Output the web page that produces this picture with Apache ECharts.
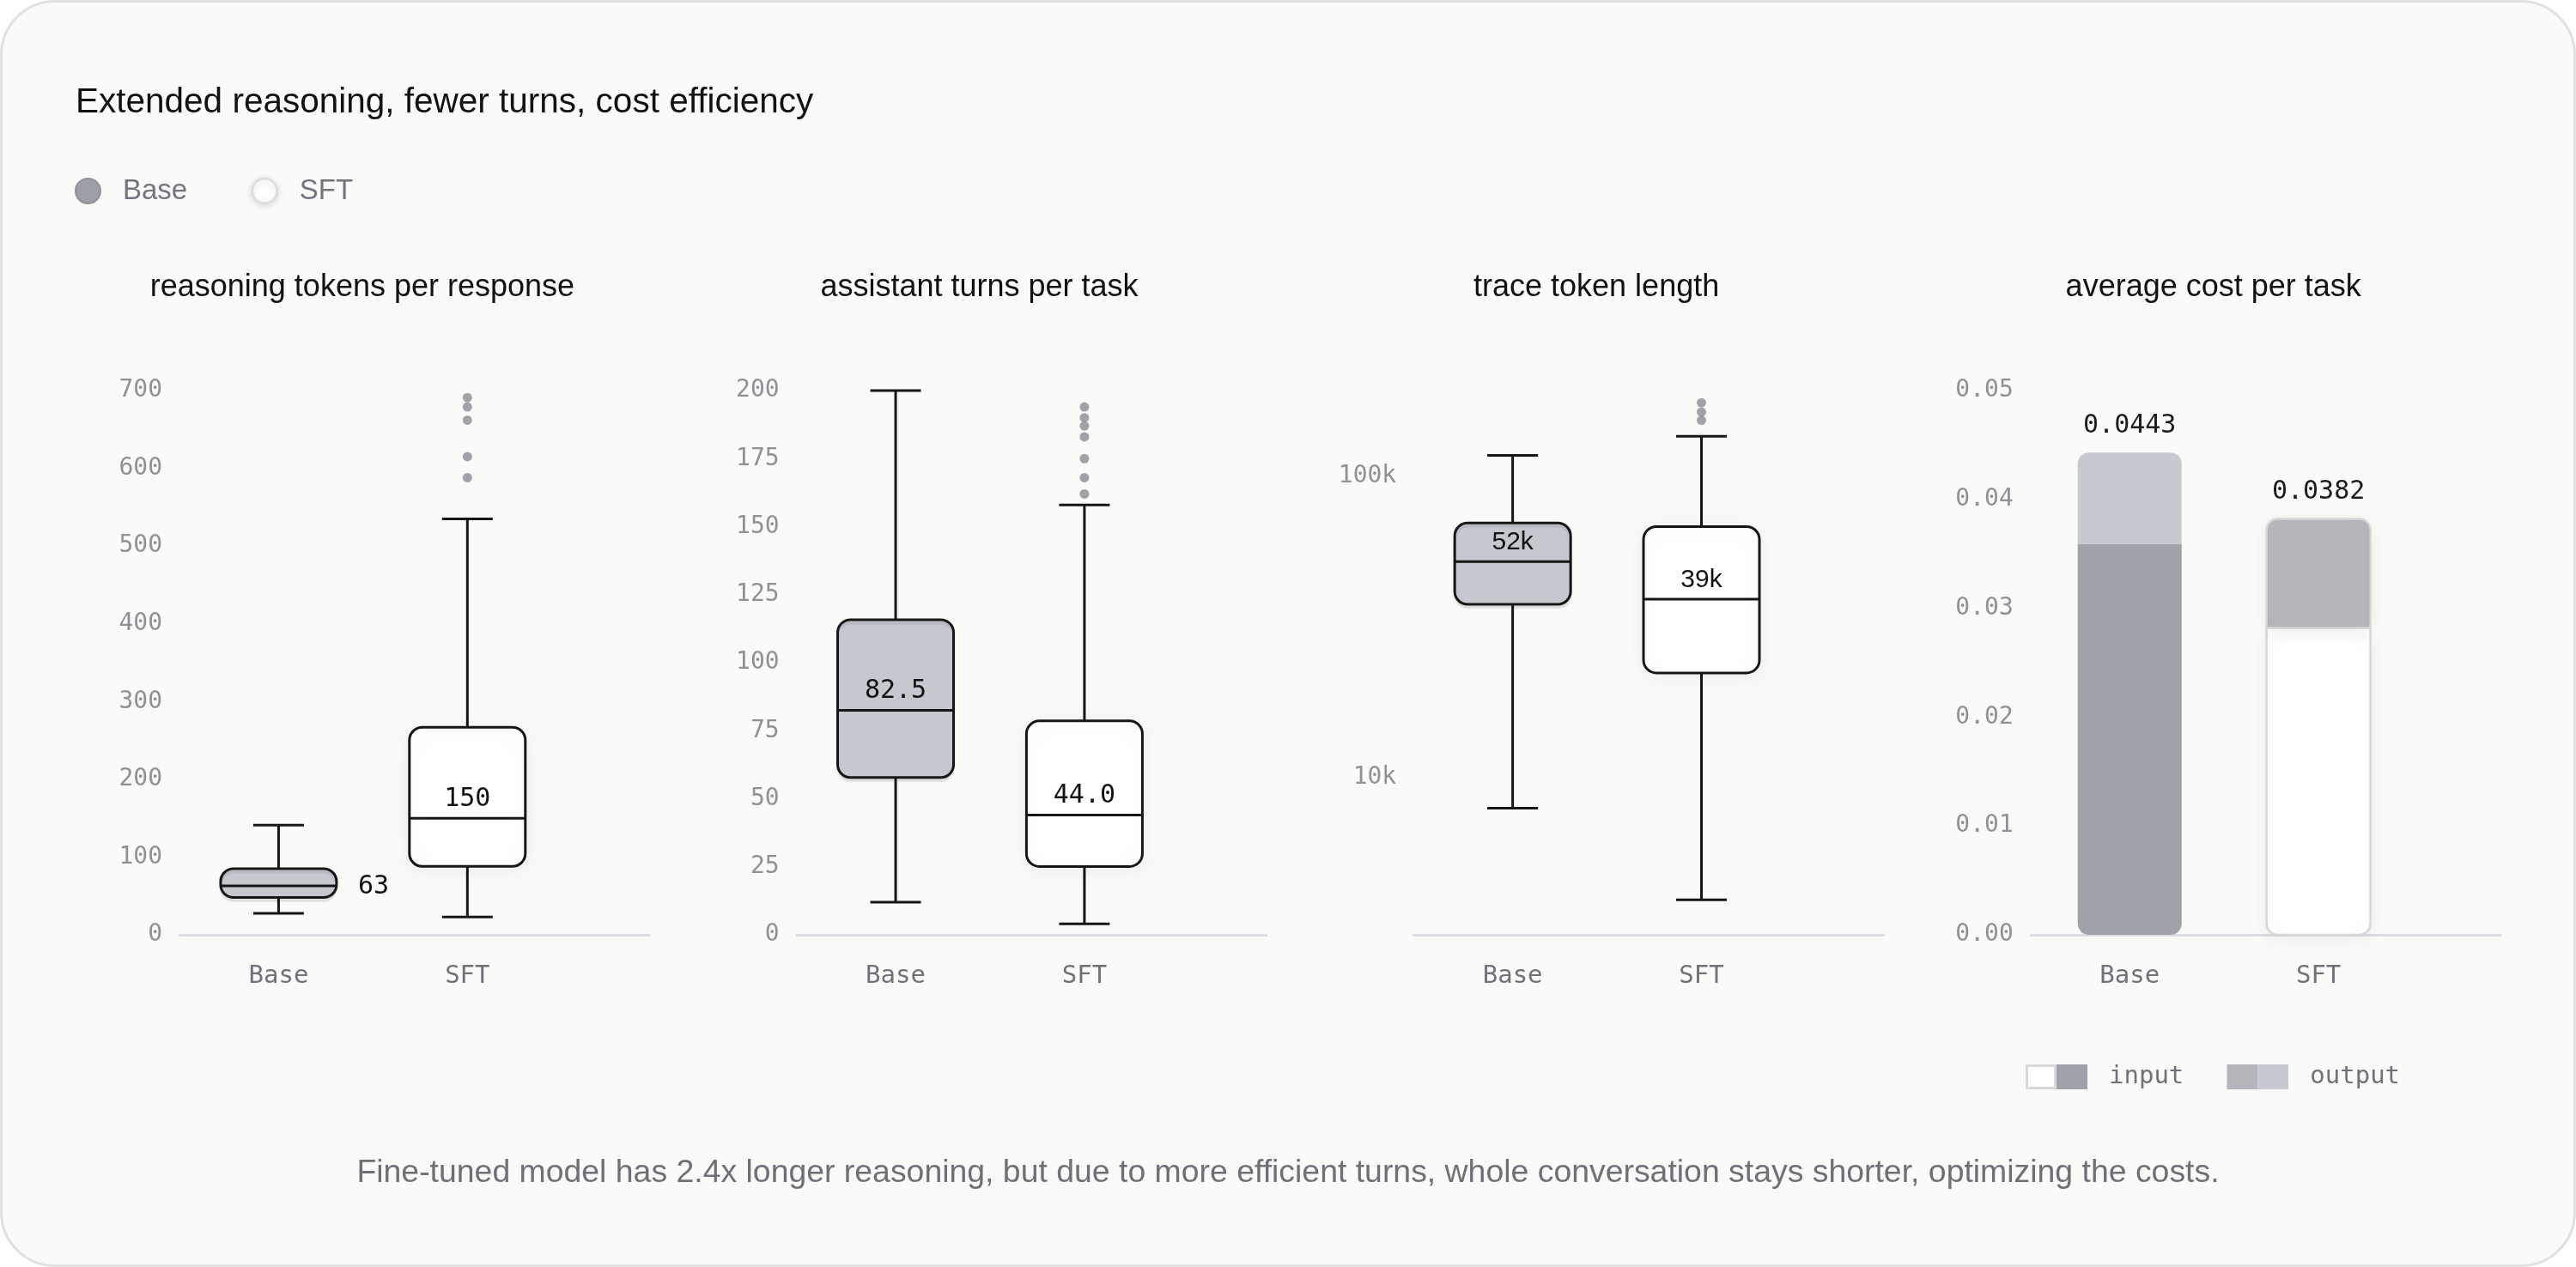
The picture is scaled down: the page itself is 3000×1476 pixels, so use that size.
<!DOCTYPE html>
<html>
<head>
<meta charset="utf-8">
<script src="https://cdn.jsdelivr.net/npm/echarts@6/dist/echarts.min.js"></script>
<style>
html,body{margin:0;padding:0;background:#ffffff;}
#card{position:absolute;left:0;top:0;width:3000px;height:1476px;box-sizing:border-box;border:3px solid #e0e0e0;border-radius:64px;background:#fafaf8;}
#chart{position:absolute;left:0;top:0;width:3000px;height:1476px;}
</style>
</head>
<body>
<div id="card"></div>
<div id="chart"></div>
<script>
// ---------------- data ----------------
const groups = ['Base', 'SFT'];
const mainTitle = 'Extended reasoning, fewer turns, cost efficiency';
const panelTitles = ['reasoning tokens per response', 'assistant turns per task', 'trace token length', 'average cost per task'];
const footnote = 'Fine-tuned model has 2.4x longer reasoning, but due to more efficient turns, whole conversation stays shorter, optimizing the costs.';

// box stats: [min, q1, median, q3, max]
const tokensBase = [27.5, 48, 63, 85, 141];
const tokensSFT = [23, 88, 150, 267, 535];
const tokensOutliersSFT = [691, 679, 662, 615, 588];

const turnsBase = [12, 57.8, 82.5, 115.8, 200];
const turnsSFT = [4, 25.1, 44.0, 78.6, 158];
const turnsOutliersSFT = [194, 190, 187, 183, 175, 168, 162];

const traceBase = [7900, 37500, 52000, 69800, 117000];
const traceSFT = [3920, 22200, 39000, 67900, 135500];
const traceOutliersSFT = [175000, 163000, 153000];

const costInput = [0.0359, 0.0282];
const costOutput = [0.0084, 0.0100];

// axis ticks
const tokensTicks = [0, 100, 200, 300, 400, 500, 600, 700];
const turnsTicks = [0, 25, 50, 75, 100, 125, 150, 175, 200];
const traceTicks = [10000, 100000];
const traceDomain = [3000, 192000];
const costTicks = [0, 0.01, 0.02, 0.03, 0.04, 0.05];
const legendItems = ['input', 'output'];

// ---------------- styling / layout ----------------
const MONO = '"DejaVu Sans Mono", monospace';
const SANS = '"Liberation Sans", Arial, sans-serif';
const GRID_LEFT0 = 209, PITCH = 718.6, PLOT_W = 547.5, PLOT_TOP = 455, PLOT_H = 634;
const X_MIN = -0.525, X_MAX = 1.965;
const BOX_W = 135, CAP_W = 59, BAR_W = 121;
const STROKE = '#161616';
const boxFills = ['#c5c8cf', '#ffffff'];
const inputStyles = [
  {fill: '#9fa2a9'},
  {fill: '#ffffff', stroke: '#d6d6d6', lineWidth: 2.5, shadowBlur: 22, shadowColor: 'rgba(0,0,0,0.07)', shadowOffsetY: 4}
];
const outputStyles = [
  {fill: '#c6c9d0'},
  {fill: '#b4b6bb', stroke: '#d6d6d6', lineWidth: 2.5, shadowBlur: 22, shadowColor: 'rgba(0,0,0,0.07)', shadowOffsetY: 4}
];

function svgIcon(parts) {
  const svg = "<svg xmlns='http://www.w3.org/2000/svg' width='72' height='29'>" + parts + "</svg>";
  return 'image://data:image/svg+xml;charset=utf-8,' + encodeURIComponent(svg);
}
const inputIcon = svgIcon("<rect x='1.5' y='1.5' width='33' height='26' fill='#ffffff' stroke='#d9d9d9' stroke-width='3'/><rect x='36' y='0' width='36' height='29' fill='#9fa2a9'/>");
const outputIcon = svgIcon("<rect x='0' y='0' width='36' height='29' fill='#b4b6bb'/><rect x='36' y='0' width='36' height='29' fill='#c6c9d0'/>");

function makeBoxRenderer(format, font) {
  return function (params, api) {
    const x = api.value(0);
    const v = [1, 2, 3, 4, 5].map(k => api.value(k));
    const p = v.map(val => api.coord([x, val]));
    const cx = p[0][0];
    const yMin = p[0][1], yQ1 = p[1][1], yMed = p[2][1], yQ3 = p[3][1], yMax = p[4][1];
    const ls = {stroke: STROKE, lineWidth: 3};
    const boxH = yQ1 - yQ3;
    const outside = boxH < 60;
    return {
      type: 'group',
      children: [
        {type: 'line', shape: {x1: cx, y1: yMax, x2: cx, y2: yQ3}, style: ls},
        {type: 'line', shape: {x1: cx - CAP_W / 2, y1: yMax, x2: cx + CAP_W / 2, y2: yMax}, style: ls},
        {type: 'line', shape: {x1: cx, y1: yQ1, x2: cx, y2: yMin}, style: ls},
        {type: 'line', shape: {x1: cx - CAP_W / 2, y1: yMin, x2: cx + CAP_W / 2, y2: yMin}, style: ls},
        {type: 'rect', shape: {x: cx - BOX_W / 2, y: yQ3, width: BOX_W, height: boxH, r: Math.min(15, boxH / 2)},
          style: {fill: boxFills[x], stroke: STROKE, lineWidth: 3,
            shadowBlur: x === 1 ? 26 : 0, shadowColor: 'rgba(0,0,0,0.07)', shadowOffsetY: 4}},
        {type: 'line', shape: {x1: cx - BOX_W / 2, y1: yMed, x2: cx + BOX_W / 2, y2: yMed}, style: ls},
        {type: 'text', style: {
          text: format(v[2]),
          x: outside ? cx + BOX_W / 2 + 25 : cx,
          y: outside ? yMed + 1 : yMed - 22,
          align: outside ? 'left' : 'center', verticalAlign: 'middle',
          fontSize: 30, fontFamily: font, fill: '#111111'}}
      ]
    };
  };
}

function inputBarRender(params, api) {
  const x = api.value(0), val = api.value(1);
  const p0 = api.coord([x, 0]), p1 = api.coord([x, val]);
  return {type: 'rect', shape: {x: p0[0] - BAR_W / 2, y: p1[1], width: BAR_W, height: p0[1] - p1[1], r: [0, 0, 13, 13]},
    style: inputStyles[x]};
}
function outputBarRender(params, api) {
  const x = api.value(0), base = api.value(1), val = api.value(2);
  const p0 = api.coord([x, base]), p1 = api.coord([x, base + val]);
  return {type: 'group', children: [
    {type: 'rect', shape: {x: p0[0] - BAR_W / 2, y: p1[1], width: BAR_W, height: p0[1] - p1[1], r: [13, 13, 0, 0]},
      style: outputStyles[x]},
    {type: 'text', style: {text: (base + val).toFixed(4), x: p0[0], y: p1[1] - 16, align: 'center', verticalAlign: 'bottom',
      fontSize: 30, fontFamily: MONO, fill: '#1c1c1c'}}
  ]};
}

const grids = [0, 1, 2, 3].map(i => ({left: GRID_LEFT0 + i * PITCH, top: PLOT_TOP, width: PLOT_W, height: PLOT_H, outerBoundsMode: 'none', containLabel: false}));

const xAxes = [0, 1, 2, 3].map(i => ({
  type: 'value', gridIndex: i, min: X_MIN, max: X_MAX,
  axisLine: {show: true, onZero: false, lineStyle: {color: '#dcdde0', width: 3}},
  axisTick: {show: false}, splitLine: {show: false},
  axisLabel: {customValues: [0, 1], margin: 34, fontFamily: MONO, fontSize: 29, color: '#6f727a',
    formatter: v => (Number.isInteger(v) && groups[v]) ? groups[v] : ''}
}));

const yCommon = {
  axisLine: {show: false, onZero: false}, axisTick: {show: false}, splitLine: {show: false},
};
const yLabel = {margin: 20, fontFamily: MONO, fontSize: 28, color: '#8f9198'};
function traceLabel(v) {
  const hit = traceTicks.find(t => Math.abs(t - v) / t < 1e-4);
  return hit ? Math.round(hit / 1000) + 'k' : '';
}
const yAxes = [
  Object.assign({type: 'value', gridIndex: 0, min: tokensTicks[0], max: tokensTicks[tokensTicks.length - 1], interval: tokensTicks[1] - tokensTicks[0],
    axisLabel: Object.assign({}, yLabel)}, yCommon),
  Object.assign({type: 'value', gridIndex: 1, min: turnsTicks[0], max: turnsTicks[turnsTicks.length - 1], interval: turnsTicks[1] - turnsTicks[0],
    axisLabel: Object.assign({}, yLabel)}, yCommon),
  Object.assign({type: 'log', logBase: 10, gridIndex: 2, min: traceDomain[0], max: traceDomain[1],
    axisLabel: Object.assign({}, yLabel, {formatter: traceLabel})}, yCommon),
  Object.assign({type: 'value', gridIndex: 3, min: costTicks[0], max: costTicks[costTicks.length - 1], interval: costTicks[1] - costTicks[0],
    axisLabel: Object.assign({}, yLabel, {formatter: v => v.toFixed(2)})}, yCommon)
];

function boxSeries(name, i, stats, format, font) {
  return {type: 'custom', name, xAxisIndex: i, yAxisIndex: i, z: 2,
    data: [[groups.indexOf(name)].concat(stats)],
    encode: {x: 0, y: [1, 2, 3, 4, 5]},
    renderItem: makeBoxRenderer(format, font)};
}
function outlierSeries(i, values) {
  return {type: 'scatter', name: 'SFT', xAxisIndex: i, yAxisIndex: i, z: 3,
    data: values.map(v => [1, v]), symbol: 'circle', symbolSize: 11,
    itemStyle: {color: '#8a8c93'}, emphasis: {disabled: true}};
}
const fmtInt = v => String(Math.round(v));
const fmtOne = v => v.toFixed(1);
const fmtK = v => Math.round(v / 1000) + 'k';

const series = [
  boxSeries('Base', 0, tokensBase, fmtInt, MONO),
  boxSeries('SFT', 0, tokensSFT, fmtInt, MONO),
  outlierSeries(0, tokensOutliersSFT),
  boxSeries('Base', 1, turnsBase, fmtOne, MONO),
  boxSeries('SFT', 1, turnsSFT, fmtOne, MONO),
  outlierSeries(1, turnsOutliersSFT),
  boxSeries('Base', 2, traceBase, fmtK, SANS),
  boxSeries('SFT', 2, traceSFT, fmtK, SANS),
  outlierSeries(2, traceOutliersSFT),
  {type: 'custom', name: legendItems[0], xAxisIndex: 3, yAxisIndex: 3, z: 2,
    data: costInput.map((v, j) => [j, v]), encode: {x: 0, y: 1}, renderItem: inputBarRender},
  {type: 'custom', name: legendItems[1], xAxisIndex: 3, yAxisIndex: 3, z: 3,
    data: costOutput.map((v, j) => [j, costInput[j], v]), encode: {x: 0, y: [1, 2]}, renderItem: outputBarRender}
];

const graphics = [
  {type: 'text', x: 88, y: 120, style: {text: mainTitle, fontSize: 40.5, fontFamily: SANS, fill: '#111111', align: 'left', verticalAlign: 'middle'}},
  {type: 'text', x: 1500, y: 1367, style: {text: footnote, fontSize: 37.4, fontFamily: SANS, fill: '#6e7078', align: 'center', verticalAlign: 'middle'}}
].concat(panelTitles.map((t, i) => ({
  type: 'text', x: 421.9 + i * PITCH, y: 335,
  style: {text: t, fontSize: 36, fontFamily: SANS, fill: '#111111', align: 'center', verticalAlign: 'middle'}
})));

const chart = echarts.init(document.getElementById('chart'), null, {renderer: 'canvas'});
chart.setOption({
  backgroundColor: 'transparent',
  animation: false,
  legend: [
    {data: [
      {name: 'Base', icon: 'circle', itemStyle: {color: '#9c9fa6', borderColor: '#8e9198', borderWidth: 2}},
      {name: 'SFT', icon: 'circle', itemStyle: {color: '#ffffff', borderColor: '#dedede', borderWidth: 3, shadowBlur: 8, shadowColor: 'rgba(0,0,0,0.12)', shadowOffsetY: 2}}
    ],
      left: 87, top: 206, padding: 0, itemWidth: 29, itemHeight: 29, itemGap: 74, selectedMode: false,
      textStyle: {fontFamily: SANS, fontSize: 33, color: '#71747c', padding: [0, 0, 0, 21]}},
    {data: [{name: legendItems[0], icon: inputIcon}, {name: legendItems[1], icon: outputIcon}],
      left: 2359, top: 1240, padding: 0, itemWidth: 72, itemHeight: 29, itemGap: 50, selectedMode: false,
      textStyle: {fontFamily: MONO, fontSize: 29, color: '#6f727a', padding: [0, 0, 0, 20]}}
  ],
  grid: grids,
  xAxis: xAxes,
  yAxis: yAxes,
  graphic: graphics,
  series: series
});
</script>
</body>
</html>
